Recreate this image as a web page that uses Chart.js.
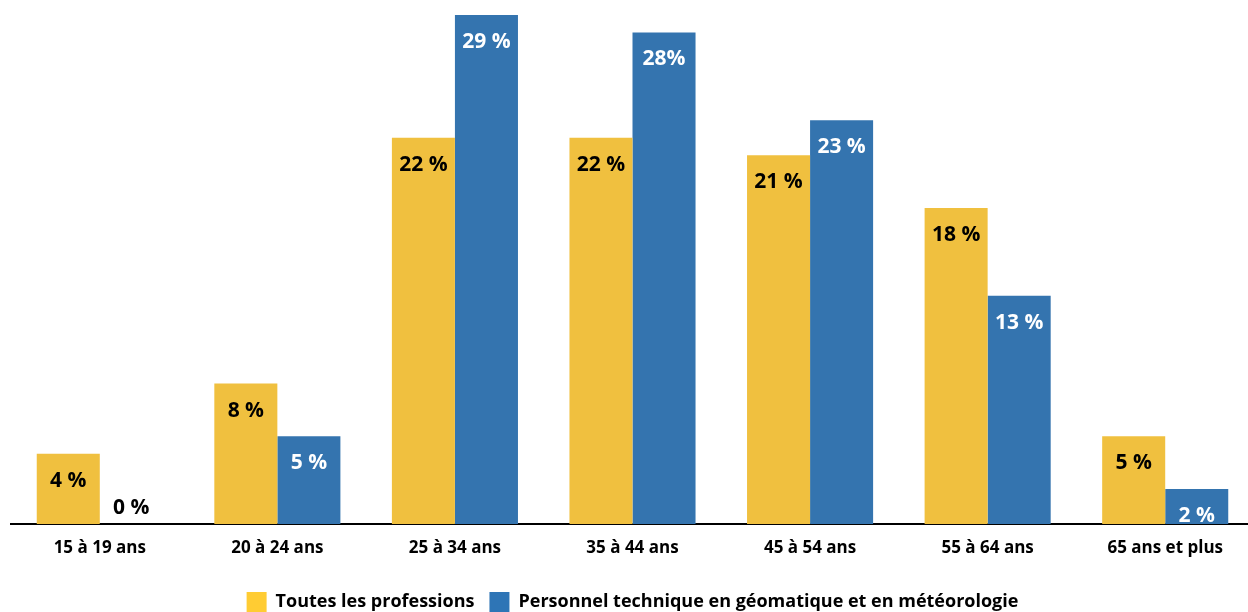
<!DOCTYPE html>
<html lang="fr">
<head>
<meta charset="utf-8">
<script src="https://cdn.jsdelivr.net/npm/chart.js@4.4.1/dist/chart.umd.min.js"></script>
<style>
  html, body { margin: 0; padding: 0; background: #fff; overflow: hidden; }
  #wrap { width: 1254px; height: 612px; }
</style>
</head>
<body>
<div id="wrap"><canvas id="ages"></canvas></div>
<script>
const groupesAge = ['15 à 19 ans', '20 à 24 ans', '25 à 34 ans', '35 à 44 ans', '45 à 54 ans', '55 à 64 ans', '65 ans et plus'];
const toutesProfessions = [4, 8, 22, 22, 21, 18, 5];
const personnelTechnique = [0, 5, 29, 28, 23, 13, 2];
const etiquettesTechnique = ['0 %', '5 %', '29 %', '28%', '23 %', '13 %', '2 %'];

const FONT = "'Open Sans', 'Noto Sans', sans-serif";

// écrit la valeur dans le haut de chaque barre
const etiquettes = {
  id: 'etiquettes',
  afterDatasetsDraw(chart) {
    const ctx = chart.ctx;
    ctx.save();
    ctx.font = 'bold 21px ' + FONT;
    ctx.textAlign = 'center';
    ctx.textBaseline = 'middle';
    chart.data.datasets.forEach((ds, i) => {
      chart.getDatasetMeta(i).data.forEach((bar, j) => {
        const v = ds.data[j];
        const txt = i === 1 ? etiquettesTechnique[j] : v + ' %';
        if (v === 0) {
          ctx.fillStyle = '#000';
          ctx.fillText(txt, bar.x, bar.base - 16);
        } else {
          ctx.fillStyle = i === 1 ? '#fff' : '#000';
          ctx.fillText(txt, bar.x, bar.y + 27);
        }
      });
    });
    ctx.restore();
  }
};

new Chart(document.getElementById('ages'), {
  type: 'bar',
  data: {
    labels: groupesAge,
    datasets: [
      {
        label: 'Toutes les professions',
        data: toutesProfessions,
        backgroundColor: '#F0C03F',
        categoryPercentage: 0.71,
        barPercentage: 1
      },
      {
        label: 'Personnel technique en géomatique et en météorologie',
        data: personnelTechnique,
        backgroundColor: '#3474AF',
        categoryPercentage: 0.71,
        barPercentage: 1
      }
    ]
  },
  options: {
    responsive: true,
    maintainAspectRatio: false,
    animation: false,
    layout: { padding: { left: 11, right: 0, top: 0, bottom: -10 } },
    plugins: {
      legend: {
        position: 'bottom',
        labels: {
          color: '#000',
          font: { family: FONT, size: 18, weight: 'bold' },
          boxWidth: 20,
          boxHeight: 20,
          padding: 15,
          generateLabels(chart) {
            const cols = ['#FFCC33', '#2E75B6'];
            return chart.data.datasets.map((ds, i) => ({
              text: ds.label,
              fillStyle: cols[i],
              strokeStyle: cols[i],
              lineWidth: 0,
              datasetIndex: i,
              fontColor: '#000'
            }));
          }
        }
      },
      tooltip: { enabled: false }
    },
    scales: {
      x: {
        grid: { display: false },
        border: { color: '#000', width: 2 },
        ticks: {
          color: '#000',
          padding: 6,
          font: { family: FONT, size: 17, weight: 'bold' }
        },
        afterFit(scale) { scale.height = 53; }
      },
      y: {
        display: false,
        min: 0,
        max: 29.85
      }
    }
  },
  plugins: [etiquettes]
});
</script>
</body>
</html>
